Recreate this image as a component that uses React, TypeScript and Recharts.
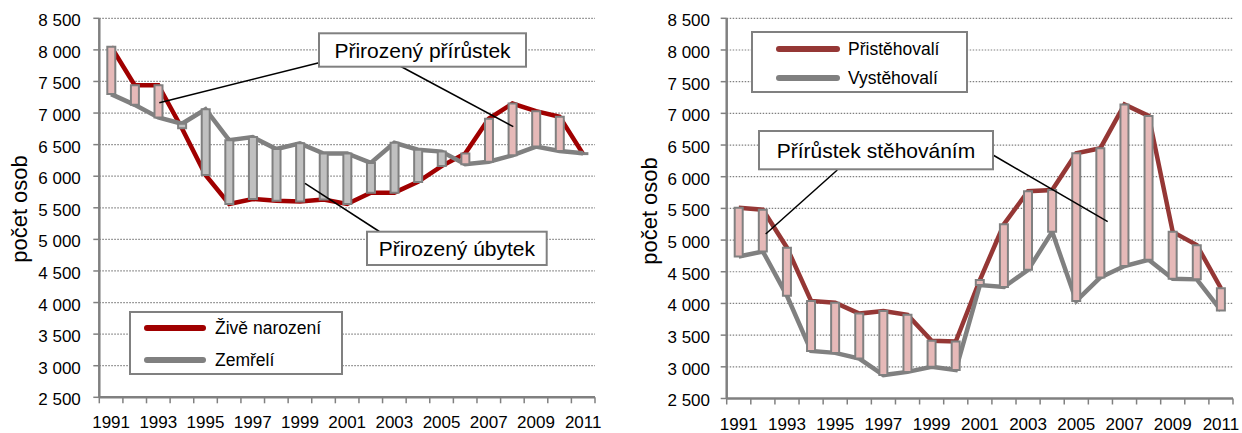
import { ComposedChart, Line, Bar, Cell, XAxis, YAxis, CartesianGrid, Legend } from 'recharts';

const years = [
  '1991', '1992', '1993', '1994', '1995', '1996', '1997', '1998', '1999', '2000', '2001',
  '2002', '2003', '2004', '2005', '2006', '2007', '2008', '2009', '2010', '2011',
];
// přirozený pohyb
const births = [8050, 7440, 7440, 6760, 6020, 5560, 5640, 5610, 5600, 5630, 5560, 5740, 5740, 5910, 6160, 6360, 6910, 7150, 7030, 6940, 6350];
const deaths = [7300, 7130, 6930, 6830, 7060, 6570, 6620, 6430, 6520, 6360, 6360, 6210, 6530, 6420, 6390, 6190, 6230, 6330, 6470, 6400, 6365];
// migrace
const immigrants = [5510, 5480, 4880, 4040, 4010, 3840, 3880, 3820, 3410, 3400, 4370, 5250, 5770, 5790, 6370, 6450, 7140, 6960, 5130, 4920, 4240];
const emigrants = [4740, 4820, 4120, 3250, 3220, 3130, 2870, 2920, 3000, 2950, 4290, 4260, 4530, 5130, 4040, 4410, 4590, 4690, 4390, 4380, 3890];

const yTicks = [2500, 3000, 3500, 4000, 4500, 5000, 5500, 6000, 6500, 7000, 7500, 8000, 8500];

const FONT = '"Liberation Sans", Arial, sans-serif';
const GREY = '#808080';
const PINK = '#e6b9b8';
const BAR_GREY = '#c0c0c0';
const RED_L = '#a00000';
const RED_R = '#953735';

const fmt = (v: number) => String(v).replace(/\B(?=(\d{3})+(?!\d))/g, '\u00a0');

const toRows = (a: number[], b: number[]) =>
  years.map((year, i) => ({
    year,
    a: a[i],
    b: b[i],
    range: [Math.min(a[i], b[i]), Math.max(a[i], b[i])],
    up: a[i] >= b[i],
  }));

const natRows = toRows(births, deaths);
const migRows = toRows(immigrants, emigrants);

function XTick(props: any) {
  const { x, y, payload, index, band } = props;
  const half = band / 2;
  const odd = Number(payload.value) % 2 === 1;
  return (
    <g>
      <line x1={x - half} x2={x - half} y1={y} y2={y + 6} stroke={GREY} strokeWidth={1.5} />
      {index === years.length - 1 && (
        <line x1={x + half} x2={x + half} y1={y} y2={y + 6} stroke={GREY} strokeWidth={1.5} />
      )}
      {odd && (
        <text x={x} y={y + 31} textAnchor="middle" fontSize={17} fontFamily={FONT} fill="#000">
          {payload.value}
        </text>
      )}
    </g>
  );
}

function YTick(props: any) {
  const { x, y, payload } = props;
  return (
    <text x={x} y={y} dy="0.47em" textAnchor="end" fontSize={17} fontFamily={FONT} fill="#000">
      {fmt(payload.value)}
    </text>
  );
}

interface LegendItem {
  name: string;
  color: string;
}

function LegendBox({ items, w, h, lx, lw, tx, rows }: { items: LegendItem[]; w: number; h: number; lx: number; lw: number; tx: number; rows: number[] }) {
  return (
    <div style={{ width: w, height: h, boxSizing: 'border-box', border: `2px solid ${GREY}`, background: '#fff' }}>
      <svg width={w - 4} height={h - 4} style={{ display: 'block' }}>
        {items.map((it, i) => (
          <g key={it.name}>
            <line x1={lx} x2={lx + lw} y1={rows[i]} y2={rows[i]} stroke={it.color} strokeWidth={6} strokeLinecap="round" />
            <text x={tx} y={rows[i]} dy="0.36em" fontSize={17.5} fontFamily={FONT} fill="#000">
              {it.name}
            </text>
          </g>
        ))}
      </svg>
    </div>
  );
}

interface PanelProps {
  rows: ReturnType<typeof toRows>;
  red: string;
  names: [string, string];
  width: number;
  left: number;
  yAxisW: number;
  right: number;
  xAxisH: number;
  band: number;
  tickMargin: number;
  legend: { left: number; top: number; w: number; h: number; lx: number; lw: number; tx: number; rows: number[] };
}

function Panel({ rows, red, names, width, left, yAxisW, right, xAxisH, band, tickMargin, legend }: PanelProps) {
  const items: LegendItem[] = [
    { name: names[0], color: red },
    { name: names[1], color: GREY },
  ];
  return (
    <div style={{ position: 'absolute', left, top: 0, width, height: 433 }}>
      <ComposedChart width={width} height={433} data={rows} margin={{ top: 18.3, right, left: 0, bottom: 0 }}>
        <CartesianGrid vertical={false} stroke={GREY} strokeDasharray="1.5 1.5" strokeWidth={1.2} />
        <XAxis
          dataKey="year"
          scale="band"
          height={xAxisH}
          interval={0}
          tickSize={0}
          tickMargin={0}
          axisLine={{ stroke: GREY, strokeWidth: 2.5 }}
          tickLine={false}
          tick={(p: any) => <XTick {...p} band={band} />}
        />
        <YAxis
          width={yAxisW}
          domain={[2500, 8500]}
          ticks={yTicks}
          interval={0}
          tickSize={6}
          tickMargin={tickMargin}
          axisLine={{ stroke: GREY, strokeWidth: 2.5 }}
          tickLine={{ stroke: GREY, strokeWidth: 1.5 }}
          tick={(p: any) => <YTick {...p} />}
        />
        <Legend
          layout="vertical"
          align="center"
          verticalAlign="middle"
          wrapperStyle={{ left: legend.left, top: legend.top, width: legend.w, height: legend.h }}
          content={() => <LegendBox items={items} {...legend} />}
        />
        <Line dataKey="a" name={names[0]} stroke={red} strokeWidth={4.5} dot={false} activeDot={false} isAnimationActive={false} />
        <Line dataKey="b" name={names[1]} stroke={GREY} strokeWidth={4.5} dot={false} activeDot={false} isAnimationActive={false} />
      </ComposedChart>
      {/* up/down bars drawn in a second layer so they sit above the lines */}
      <div style={{ position: 'absolute', left: 0, top: 0 }}>
        <ComposedChart width={width} height={433} data={rows} margin={{ top: 18.3, right, left: yAxisW, bottom: xAxisH }}>
          <XAxis dataKey="year" scale="band" hide />
          <YAxis domain={[2500, 8500]} ticks={yTicks} hide />
          <Bar dataKey="range" barSize={8} isAnimationActive={false} legendType="none">
            {rows.map((r) => (
              <Cell key={r.year} fill={r.up ? PINK : BAR_GREY} stroke={GREY} strokeWidth={2} />
            ))}
          </Bar>
        </ComposedChart>
      </div>
    </div>
  );
}

function Callout({ x, y, w, h, text }: { x: number; y: number; w: number; h: number; text: string }) {
  return (
    <g>
      <rect x={x} y={y} width={w} height={h} fill="#fff" stroke={GREY} strokeWidth={2} />
      <text x={x + w / 2} y={y + h / 2} dy="0.36em" textAnchor="middle" fontSize={21} fontFamily={FONT} fill="#000">
        {text}
      </text>
    </g>
  );
}

export default function App() {
  return (
    <div style={{ position: 'absolute', left: 0, top: 0, width: 1242, height: 433, background: '#fff', fontFamily: FONT }}>
      <Panel
        rows={natRows}
        red={RED_L}
        names={['Živě narození', 'Zemřelí']}
        width={620}
        left={0}
        yAxisW={99.3}
        right={25}
        xAxisH={35.7}
        band={23.6}
        tickMargin={12.5}
        legend={{ left: 129, top: 311, w: 214, h: 64, lx: 16, lw: 56, tx: 84, rows: [15, 47] }}
      />
      <Panel
        rows={migRows}
        red={RED_R}
        names={['Přistěhovalí', 'Vystěhovalí']}
        width={622}
        left={620}
        yAxisW={106.7}
        right={9}
        xAxisH={34.5}
        band={24.1}
        tickMargin={10.7}
        legend={{ left: 131, top: 31, w: 217, h: 62, lx: 26, lw: 58, tx: 95, rows: [16, 45] }}
      />
      <svg width={1242} height={433} style={{ position: 'absolute', left: 0, top: 0, pointerEvents: 'none' }}>
        <text transform="translate(19,209) rotate(-90)" textAnchor="middle" dy="0.36em" fontSize={22} fontFamily={FONT} fill="#000">
          počet osob
        </text>
        <text transform="translate(649,211) rotate(-90)" textAnchor="middle" dy="0.36em" fontSize={22} fontFamily={FONT} fill="#000">
          počet osob
        </text>
        <g stroke="#000" strokeWidth={1.5}>
          <line x1={319} y1={62.7} x2={159.3} y2={102.7} />
          <line x1={400} y1={66} x2={513.3} y2={126.7} />
          <line x1={379.3} y1={231.5} x2={305} y2={183.3} />
          <line x1={837.3} y1={170} x2={765.7} y2={234} />
          <line x1={993} y1={155} x2={1107.7} y2={221.7} />
        </g>
        <Callout x={319} y={33.3} w={207} h={33.4} text="Přirozený přírůstek" />
        <Callout x={367} y={231.7} w={179.7} h={33.3} text="Přirozený úbytek" />
        <Callout x={759} y={131} w={234} h={38.3} text="Přírůstek stěhováním" />
      </svg>
    </div>
  );
}
